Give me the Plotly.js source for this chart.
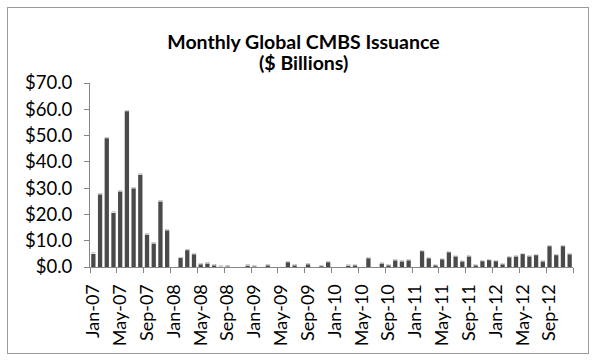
<!DOCTYPE html>
<html>
<head>
<meta charset="utf-8">
<script src="https://cdn.plot.ly/plotly-3.0.1.min.js"></script>
<style>
  html, body { margin: 0; padding: 0; background: #fff; }
  #wrap { position: relative; width: 595px; height: 360px; }
  #chart { position: absolute; left: 0; top: 0; width: 595px; height: 360px; }
  #frame { position: absolute; left: 7px; top: 7px; width: 580px; height: 345px; border: 1px solid #9a9a9a; pointer-events: none; }
</style>
</head>
<body>
<div id="wrap"><div id="chart"></div><div id="frame"></div></div>
<script>
// Data
const years = ['07', '08', '09', '10', '11', '12'];
const monthNames = ['Jan', 'Feb', 'Mar', 'Apr', 'May', 'Jun', 'Jul', 'Aug', 'Sep', 'Oct', 'Nov', 'Dec'];

const issuance2007 = [5.0, 27.6, 49.0, 20.6, 28.7, 59.3, 29.9, 35.1, 12.3, 8.9, 24.9, 13.9];
const issuance2008 = [0.0, 3.4, 6.4, 4.8, 1.0, 1.3, 0.6, 0.1, 0.2, 0.0, 0.0, 0.5];
const issuance2009 = [0.2, 0.0, 0.6, 0.0, 0.0, 1.8, 0.6, 0.0, 1.0, 0.0, 0.3, 1.8];
const issuance2010 = [0.0, 0.0, 0.5, 0.6, 0.0, 3.3, 0.0, 1.3, 0.6, 2.5, 2.1, 2.5];
const issuance2011 = [0.0, 6.0, 3.3, 0.6, 2.9, 5.6, 4.0, 2.1, 4.0, 0.6, 2.2, 2.6];
const issuance2012 = [2.2, 1.0, 3.7, 4.0, 4.9, 4.0, 4.5, 2.1, 7.9, 4.5, 7.9, 4.8];

const titleLine1 = 'Monthly Global CMBS Issuance';
const titleLine2 = '($ Billions)';

const categories = [];
years.forEach(y => monthNames.forEach(m => categories.push(m + '-' + y)));
const values = [].concat(issuance2007, issuance2008, issuance2009, issuance2010, issuance2011, issuance2012);
const positions = categories.map((c, i) => i);

const labelStep = 4;
const tickIdx = positions.filter(i => i % labelStep === 0);
const tickLabels = tickIdx.map(i => categories[i]);

const fontFam = 'Lato, Calibri, Carlito, sans-serif';
const axisGray = '#868686';
const titleFont = { family: fontFam, size: 19.5, color: '#000000' };

const trace = {
  type: 'bar',
  x: positions,
  y: values,
  text: categories,
  hoverinfo: 'text+y',
  marker: { color: '#4a4a4a', line: { width: 0 } }
};

const layout = {
  width: 595,
  height: 360,
  margin: { l: 90, r: 22, t: 83, b: 93, pad: 0 },
  paper_bgcolor: '#ffffff',
  plot_bgcolor: '#ffffff',
  showlegend: false,
  bargap: 0.36,
  title: {
    text: '<b>' + titleLine1 + '</b>',
    font: titleFont,
    x: 0.51, xref: 'container', xanchor: 'center',
    y: 1 - 42 / 360, yref: 'container', yanchor: 'middle'
  },
  annotations: [{
    text: '<b>' + titleLine2 + '</b>',
    font: titleFont,
    showarrow: false,
    xref: 'paper', x: (0.51 * 595 - 90) / (595 - 90 - 22), xanchor: 'center',
    yref: 'paper', y: 1 + (83 - 63) / (360 - 83 - 93), yanchor: 'middle'
  }],
  xaxis: {
    range: [-0.5, 71.5],
    tickmode: 'array',
    tickvals: tickIdx,
    ticktext: tickLabels,
    tickangle: -90,
    ticks: '',
    ticklabelstandoff: 9,
    showline: true,
    linecolor: axisGray,
    linewidth: 1,
    showgrid: false,
    zeroline: false,
    tickfont: { family: fontFam, size: 18, color: '#000000' },
    minor: {
      tickmode: 'linear',
      tick0: -0.5,
      dtick: labelStep,
      ticks: 'outside',
      ticklen: 5,
      tickwidth: 1,
      tickcolor: axisGray,
      showgrid: false
    },
    fixedrange: true
  },
  yaxis: {
    range: [0, 70],
    tickmode: 'linear',
    tick0: 0,
    dtick: 10,
    tickprefix: '$',
    tickformat: '.1f',
    ticks: 'outside',
    ticklen: 5,
    tickwidth: 1,
    tickcolor: axisGray,
    ticklabelstandoff: 8,
    showline: true,
    linecolor: axisGray,
    linewidth: 1,
    showgrid: false,
    zeroline: false,
    tickfont: { family: fontFam, size: 18.5, color: '#000000' },
    fixedrange: true
  }
};

Plotly.newPlot('chart', [trace], layout, { displayModeBar: false, staticPlot: true });
</script>
</body>
</html>
